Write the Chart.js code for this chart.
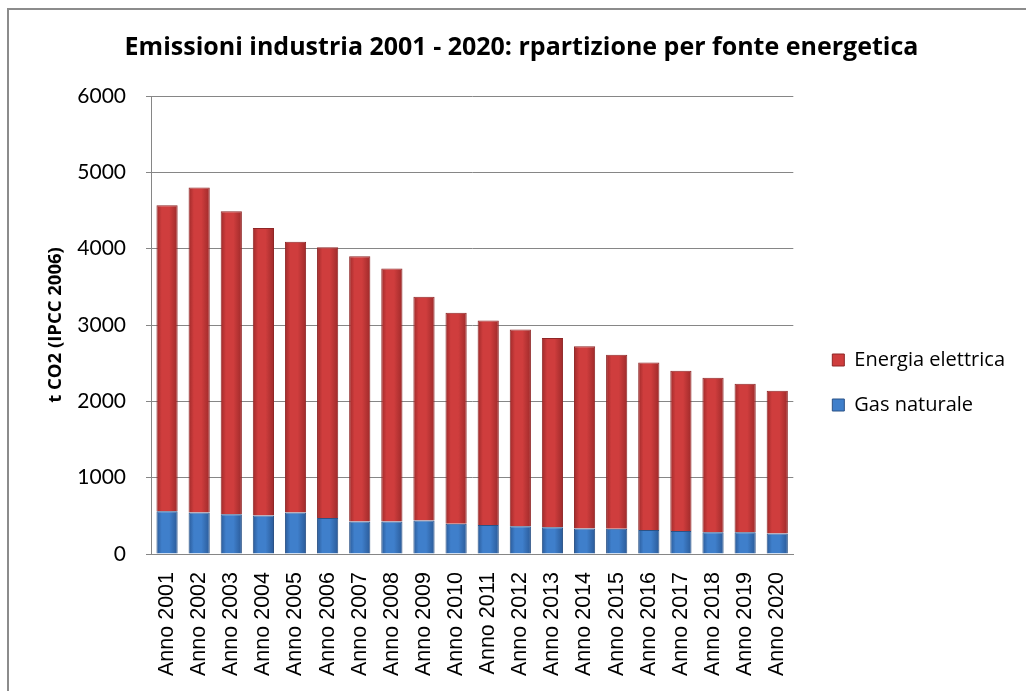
<!DOCTYPE html>
<html>
<head>
<meta charset="utf-8">
<script src="https://cdn.jsdelivr.net/npm/chart.js@4/dist/chart.umd.min.js"></script>
<style>
    html, body { margin: 0; padding: 0; background: #fff; overflow: hidden; }
    #wrap { position: absolute; left: 0; top: 0; width: 1026px; height: 691px; }
    #frame { position: absolute; left: 7px; top: 8px; width: 1100px; height: 800px;
             border: 2px solid #8c8c8c; pointer-events: none; }
</style>
</head>
<body>
<div id="wrap">
    <canvas id="emissionsChart" width="1026" height="691"></canvas>
    <div id="frame"></div>
</div>
<script>
// Emissioni industria (t CO2)
const years = ['Anno 2001', 'Anno 2002', 'Anno 2003', 'Anno 2004', 'Anno 2005',
    'Anno 2006', 'Anno 2007', 'Anno 2008', 'Anno 2009', 'Anno 2010',
    'Anno 2011', 'Anno 2012', 'Anno 2013', 'Anno 2014', 'Anno 2015',
    'Anno 2016', 'Anno 2017', 'Anno 2018', 'Anno 2019', 'Anno 2020'];
const gasNaturale = [560, 545, 520, 505, 545, 470, 425, 425, 440, 395,
    380, 365, 350, 335, 330, 315, 300, 285, 285, 270];
const energiaElettrica = [4010, 4255, 3970, 3765, 3545, 3550, 3475, 3315, 2930, 2765,
    2680, 2575, 2480, 2385, 2280, 2195, 2100, 2025, 1945, 1870];
const yTicks = [0, 1000, 2000, 3000, 4000, 5000, 6000];

const BAR_FRACTION = 0.66;

// per-bar horizontal gradient, darker at the edges like the excel bevel
function barGradient(dark, mid) {
    return function (ctx) {
        const chart = ctx.chart;
        const xScale = chart.scales.x;
        if (!chart.chartArea || !xScale || ctx.dataIndex === undefined) return mid;
        const cx = xScale.getPixelForValue(ctx.dataIndex);
        const w = (xScale.width / years.length) * BAR_FRACTION;
        const g = chart.ctx.createLinearGradient(cx - w / 2, 0, cx + w / 2, 0);
        g.addColorStop(0, dark);
        g.addColorStop(0.25, mid);
        g.addColorStop(0.6, mid);
        g.addColorStop(1, dark);
        return g;
    };
}

// move legend and title a bit, where excel had them
const layoutNudge = {
    id: 'layoutNudge',
    afterLayout(chart) {
        const lg = chart.legend;
        if (lg) {
            lg.left += 14; lg.right += 14;
            lg.top += 37; lg.bottom += 37;
        }
        const t = chart.titleBlock;
        if (t) { t.left += 21; t.right += 21; }
    }
};

const ctx = document.getElementById('emissionsChart').getContext('2d');
const chart = new Chart(ctx, {
    type: 'bar',
    data: {
        labels: years,
        datasets: [{
            label: 'Gas naturale',
            data: gasNaturale,
            backgroundColor: barGradient('#2a5a98', '#3f7fcb'),
            borderColor: '#2b5286',
            borderWidth: 1
        }, {
            label: 'Energia elettrica',
            data: energiaElettrica,
            backgroundColor: barGradient('#9e2a2a', '#cf3d3d'),
            borderColor: '#8f2626',
            borderWidth: 1
        }]
    },
    plugins: [layoutNudge],
    options: {
        responsive: false,
        animation: false,
        layout: { padding: { left: 0, right: 25, top: 0, bottom: 0 } },
        datasets: {
            bar: { categoryPercentage: 1, barPercentage: BAR_FRACTION }
        },
        plugins: {
            title: {
                display: true,
                text: 'Emissioni industria 2001 - 2020: rpartizione per fonte energetica',
                color: '#000',
                font: { family: 'Open Sans', size: 25, weight: 'bold' },
                padding: { top: 33, bottom: 33 }
            },
            legend: {
                position: 'right',
                reverse: true,
                labels: {
                    color: '#000',
                    font: { family: 'Open Sans', size: 20 },
                    boxWidth: 12,
                    boxHeight: 12,
                    padding: 25,
                    generateLabels: function (c) {
                        const base = Chart.defaults.plugins.legend.labels.generateLabels(c);
                        const solid = ['#3f7fcb', '#cf3d3d'];
                        base.forEach(item => {
                            item.fillStyle = solid[item.datasetIndex];
                            item.strokeStyle = item.datasetIndex === 0 ? '#2b5286' : '#8f2626';
                            item.lineWidth = 1;
                        });
                        return base;
                    }
                }
            },
            tooltip: { enabled: false }
        },
        scales: {
            x: {
                stacked: true,
                afterFit: function (scale) { scale.height = 137; },
                grid: { display: false, drawTicks: false },
                border: { display: true, color: '#868686', width: 1 },
                ticks: {
                    color: '#000',
                    minRotation: 90,
                    maxRotation: 90,
                    padding: 18,
                    autoSkip: false,
                    font: { family: 'Liberation Sans', size: 21.5 }
                }
            },
            y: {
                stacked: true,
                min: yTicks[0],
                max: yTicks[yTicks.length - 1],
                afterFit: function (scale) { scale.width = 151; },
                afterBuildTicks: function (scale) {
                    scale.ticks = yTicks.map(v => ({ value: v }));
                },
                grid: { color: '#868686', tickLength: 5, drawTicks: true },
                border: { display: true, color: '#868686', width: 1 },
                ticks: {
                    color: '#000',
                    padding: 20,
                    font: { family: 'Lato', size: 21 },
                    callback: value => String(value)
                },
                title: {
                    display: true,
                    text: 't CO2 (IPCC 2006)',
                    color: '#000',
                    font: { family: 'Open Sans', size: 18.5, weight: 'bold' },
                    padding: { top: 45, bottom: 0 }
                }
            }
        }
    }
});
</script>
</body>
</html>
